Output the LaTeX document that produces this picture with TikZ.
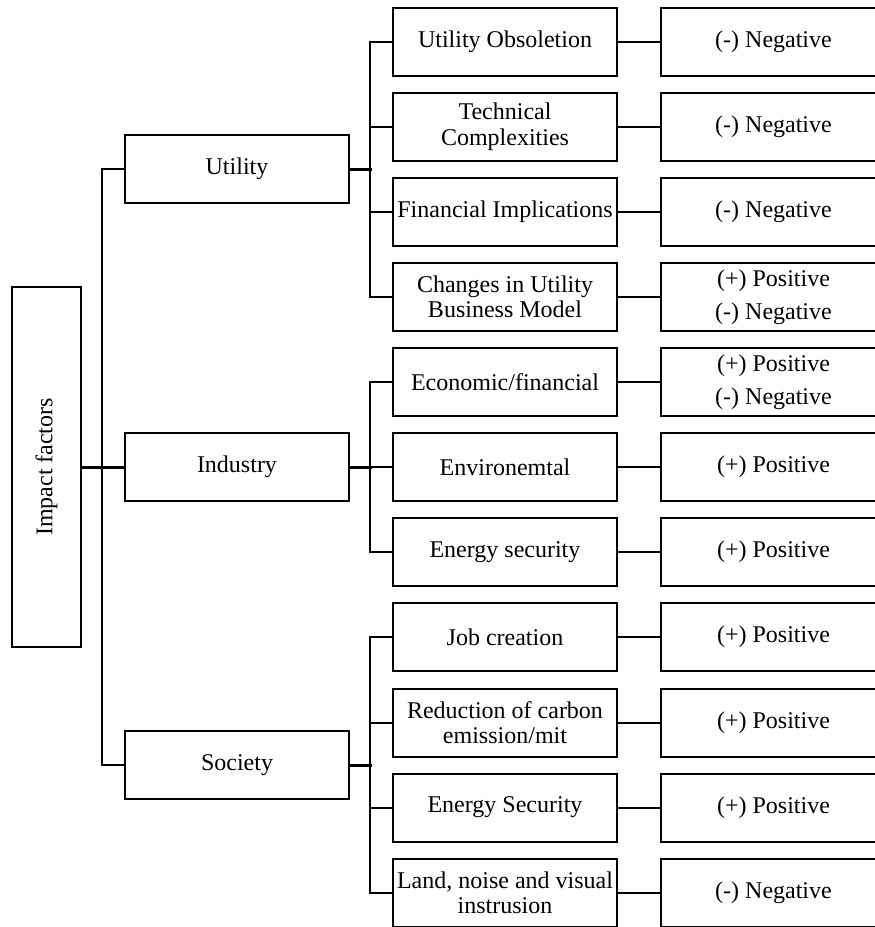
\documentclass[tikz,border=0pt]{standalone}
\usepackage{fontspec}
\setmainfont{Liberation Serif}
\begin{document}
\begin{tikzpicture}[x=1pt,y=-1pt,
  box/.style={draw=black,line width=2pt,rectangle,inner sep=0pt,align=center,
    font=\fontsize{24}{25.5}\selectfont},
  rootbox/.style={box,minimum width=69pt,minimum height=360pt},
  catbox/.style={box,minimum width=224pt,minimum height=68pt},
  itembox/.style={box,minimum width=224pt,minimum height=68pt},
  effbox/.style={box,minimum width=225pt,minimum height=68pt,
    font=\fontsize{24}{33}\selectfont},
  link/.style={draw=black,line width=2pt},
  thicklink/.style={draw=black,line width=3pt}]
\useasboundingbox (0,0) rectangle (875,927);
\begin{scope}
\clip (0,0) rectangle (875,927);

% root and categories
\node[rootbox] (imp) at (46.5,467) {\rotatebox{90}{Impact factors}};
\node[catbox] (util) at (237,169) {Utility};
\node[catbox] (ind)  at (237,467) {Industry};
\node[catbox] (soc)  at (237,765) {Society};

% second level items
\node[itembox] (u1) at (505,41.5)  {Utility Obsoletion};
\node[itembox] (u2) at (505,126.5) {Technical\\Complexities};
\node[itembox] (u3) at (505,212)   {Financial Implications};
\node[itembox] (u4) at (505,297)   {Changes in Utility\\Business Model};
\node[itembox] (i1) at (505,382)   {Economic/financial};
\node[itembox] (i2) at (505,467)   {Environemtal};
\node[itembox] (i3) at (505,552)   {Energy security};
\node[itembox] (s1) at (505,637)   {Job creation};
\node[itembox] (s2) at (505,722.5) {Reduction of carbon\\emission/mit};
\node[itembox] (s3) at (505,807.5) {Energy Security};
\node[itembox] (s4) at (505,893)   {Land, noise and visual\\instrusion};

% effects
\node[effbox] (e1)  at (773.5,41.5)  {(-) Negative};
\node[effbox] (e2)  at (773.5,126.5) {(-) Negative};
\node[effbox] (e3)  at (773.5,212)   {(-) Negative};
\node[effbox] (e4)  at (773.5,297)   {(+) Positive\\(-) Negative};
\node[effbox] (e5)  at (773.5,382)   {(+) Positive\\(-) Negative};
\node[effbox] (e6)  at (773.5,467)   {(+) Positive};
\node[effbox] (e7)  at (773.5,552)   {(+) Positive};
\node[effbox] (e8)  at (773.5,637)   {(+) Positive};
\node[effbox] (e9)  at (773.5,722.5) {(+) Positive};
\node[effbox] (e10) at (773.5,807.5) {(+) Positive};
\node[effbox] (e11) at (773.5,893)   {(-) Negative};

% root to categories
\draw[thicklink] (imp.east) -- (ind.west);
\draw[link] (util.west) -- ++(-22,0) |- (soc.west);

% categories to items
\draw[thicklink] (util.east) -- ++(22,0);
\draw[link] (u1.west) -- ++(-22,0) |- (u4.west);
\draw[link] (u2.west) -- ++(-22,0);
\draw[link] (u3.west) -- ++(-22,0);

\draw[thicklink] (ind.east) -- ++(22,0);
\draw[link] (i1.west) -- ++(-22,0) |- (i3.west);
\draw[link] (i2.west) -- ++(-22,0);

\draw[thicklink] (soc.east) -- ++(22,0);
\draw[link] (s1.west) -- ++(-22,0) |- (s4.west);
\draw[link] (s2.west) -- ++(-22,0);
\draw[link] (s3.west) -- ++(-22,0);

% items to effects
\foreach \a/\b in {u1/e1,u2/e2,u3/e3,u4/e4,i1/e5,i2/e6,i3/e7,s1/e8,s2/e9,s3/e10,s4/e11}
  \draw[link] (\a.east) -- (\b.west);
\end{scope}
\end{tikzpicture}
\end{document}
